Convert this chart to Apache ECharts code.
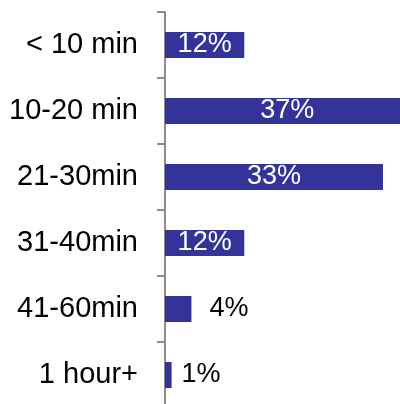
<!DOCTYPE html>
<html>
<head>
<meta charset="utf-8">
<style>
  html, body { margin: 0; padding: 0; background: #ffffff; }
  #chart { width: 400px; height: 404px; }
</style>
<script src="https://cdn.jsdelivr.net/npm/echarts@6/dist/echarts.min.js"></script>
</head>
<body>
<div id="chart"></div>
<script>
// Commute duration buckets and share of respondents (%)
const categories = ['< 10 min', '10-20 min', '21-30min', '31-40min', '41-60min', '1 hour+'];
const shares = [12, 37, 33, 12, 4, 1];

// Gap between a short bar and its outside label, per bucket
const outsideGap = { '41-60min': 18, '1 hour+': 10 };

const BAR_COLOR = '#333399';
const FONT = '"Liberation Sans", Arial, sans-serif';

const seriesData = shares.map((v, i) => {
  const inside = v >= 10;
  return {
    value: v,
    label: inside
      ? { position: 'inside', color: '#ffffff' }
      : { position: 'right', color: '#000000', distance: outsideGap[categories[i]] || 14 }
  };
});

const chart = echarts.init(document.getElementById('chart'), null, { renderer: 'canvas' });
chart.setOption({
  animation: false,
  backgroundColor: '#ffffff',
  // plot area runs a little past the right and bottom edges of the canvas
  grid: {
    left: 165, top: 12, width: 251, height: 396,
    containLabel: false,
    outerBoundsMode: 'none'
  },
  xAxis: {
    type: 'value',
    min: 0,
    max: 38,
    show: false
  },
  yAxis: {
    type: 'category',
    data: categories,
    inverse: true,
    axisLine: { show: true, lineStyle: { color: '#8c8c8c', width: 2 } },
    axisTick: { show: true, length: 8, lineStyle: { color: '#8c8c8c', width: 2 } },
    axisLabel: {
      margin: 27,
      fontFamily: FONT,
      fontSize: 29,
      color: '#000000'
    },
    splitLine: { show: false }
  },
  series: [{
    type: 'bar',
    data: seriesData,
    barWidth: 26,
    itemStyle: { color: BAR_COLOR },
    label: {
      show: true,
      formatter: p => p.value + '%',
      fontFamily: FONT,
      fontSize: 27
    }
  }]
});
</script>
</body>
</html>
